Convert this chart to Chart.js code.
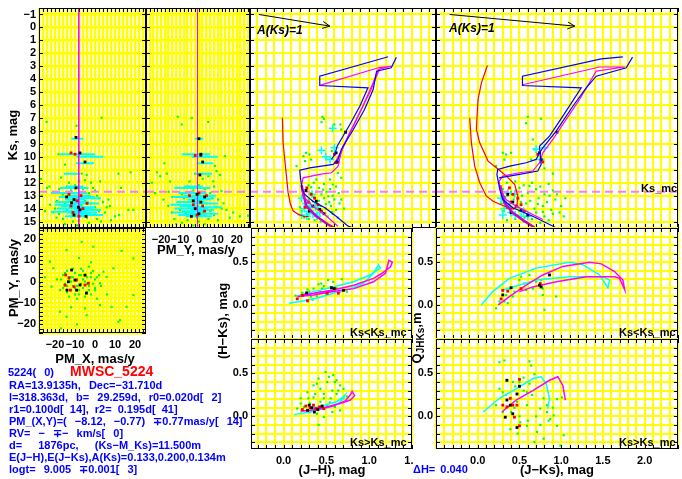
<!DOCTYPE html>
<html>
<head>
<meta charset="utf-8">
<script src="https://cdn.jsdelivr.net/npm/chart.js@4.4.1/dist/chart.umd.min.js"></script>
<style>
  body { margin: 0; background: #fff; }
  #wrap { position: relative; width: 682px; height: 479px; overflow: hidden; background: #fff;
    font-family: "Liberation Sans", Arial, sans-serif; font-weight: bold; }
  canvas { position: absolute; z-index: 1; }
  .t { position: absolute; white-space: pre; font-size: 11px; line-height: 12px; color: #000; z-index: 2; }
  .c { transform: translate(-50%, -50%); }
  .r { transform: translate(-50%, -50%) rotate(-90deg); }
  .ttl { font-size: 13px; }
  .blue { color: #0000ff; word-spacing: 5px; }
</style>
</head>
<body>
<div id="wrap">
  <div class="t ttl r" style="left:13px;top:135px">Ks, mag</div>
  <div class="t ttl c" style="left:196px;top:250px">PM_Y, mas/y</div>
  <div class="t ttl r" style="left:14px;top:278px">PM_Y, mas/y</div>
  <div class="t ttl c" style="left:95px;top:359px">PM_X, mas/y</div>
  <div class="t ttl r" style="left:223px;top:321px">(H&#8722;Ks), mag</div>
  <div class="t ttl r" style="left:419px;top:338px">Q<sub style="font-size:10px">JHKs</sub>,m</div>
  <div class="t ttl c" style="left:332px;top:470px">(J&#8722;H), mag</div>
  <div class="t ttl c" style="left:557px;top:470px">(J&#8722;Ks), mag</div>
  <div class="t blue" style="left:413px;top:463px;word-spacing:2px">&#916;H= 0.040</div>
  <div class="t" style="left:350px;top:326px">Ks&lt;Ks_mc</div>
  <div class="t" style="left:350px;top:436px">Ks&gt;Ks_mc</div>
  <div class="t" style="left:619px;top:326px">Ks&lt;Ks_mc</div>
  <div class="t" style="left:619px;top:436px">Ks&gt;Ks_mc</div>
  <div class="t" style="left:641px;top:182px">Ks_mc</div>
  <div class="t" style="left:257px;top:24px;font-style:italic;font-size:12px">A(Ks)=1</div>
  <div class="t" style="left:449px;top:22px;font-style:italic;font-size:12px">A(Ks)=1</div>

  <div class="t blue" style="left:8px;top:366px">5224( 0)</div>
  <div class="t" style="left:70px;top:364px;font-size:14px;line-height:15px;color:#ff0000">MWSC_5224</div>
  <div class="t blue" style="left:9px;top:379px">RA=13.9135h, Dec=&#8722;31.710d</div>
  <div class="t blue" style="left:9px;top:391px">l=318.363d, b= 29.259d, r0=0.020d[ 2]</div>
  <div class="t blue" style="left:9px;top:403px;word-spacing:3px">r1=0.100d[ 14], r2= 0.195d[ 41]</div>
  <div class="t blue" style="left:9px;top:415px">PM_(X,Y)=( &#8722;8.12, &#8722;0.77) &#8723;0.77mas/y[ 14]</div>
  <div class="t blue" style="left:9px;top:427px">RV= &#8722; &#8723;&#8722; km/s[ 0]</div>
  <div class="t blue" style="left:9px;top:439px">d=  1876pc,  (Ks&#8722;M_Ks)=11.500m</div>
  <div class="t blue" style="left:9px;top:451px">E(J&#8722;H),E(J&#8722;Ks),A(Ks)=0.133,0.200,0.134m</div>
  <div class="t blue" style="left:9px;top:463px">logt= 9.005 &#8723;0.001[ 3]</div>
</div>
<script>
// cluster parameters
const ksMc = 12.7;
const pmxCl = -8.12;
const pmyCl = -0.77;

// tick labels
const ksTicks = [-1, 0, 1, 2, 3, 4, 5, 6, 7, 8, 9, 10, 11, 12, 13, 14, 15];
const pmTicks = [-20, -10, 0, 10, 20];
const colorTicks = [0, 0.5, 1, 1.5, 2];

// Ks vs PM_X
const p1Field = [[3.3,6.98],[-24.2,7.3],[-9.2,7.6],[-18.3,9.8],[-15,10.6],[11.7,11.3],[17.8,11.2],[-27,11.7],[-6.7,11.3],[-4.2,11.4],
  [-22.8,12.3],[13,12.4],[2.5,11.9],[-26.7,13.0],[-22.5,13.7],[-25,14.2],[10,14.6],[16.7,14.1],[19.2,14.1],[7.5,13.8],[6.7,13.3],
  [1.7,13.2],[0.8,14.1],[5,14.3],[5.8,13.9],[-20.8,14.3],[-19.2,14.7],[-18,12.5],[-16,12.9],[-14,12.3],[-12,12.6],[-10,12.2],
  [-6,12.5],[-3,12.8],[-1,12.4],[1,13.0],[-19,13.4],[-17,13.1],[-15,13.6],[-13,13.3],[-11,13.9],[-9,13.2],[-7,13.7],[-5,13.4],
  [-4,14.0],[-2,13.6],[0,13.9],[2,14.2],[-20,14.0],[-18,14.4],[-16,14.8],[-14,14.1],[-12,14.6],[-10,14.3],[-8,14.9],[-6,14.5],
  [-4,14.7],[-3,15.1],[-1,14.5],[1,14.8],[3,15.0],[-15,15.2],[-11,15.0],[-9,15.3],[-7,14.2],[-13,12.0],[-5,11.8],[-2,12.0],
  [0,12.6],[-17,11.6],[-8,11.9],[4,13.5],[-21,12.7],[-24,12.4],[8,14.9],[12,14.5]];
const p1Err = [[8.6,-11.7,-5.9],[9.8,-17.5,0],[10.0,-9.2,4.2],[10.5,-9.5,-0.5],[11.3,-15.5,-7.5],[12.4,-17.5,-3.3],[12.8,-22,-4],
  [13.0,-14,-2],[13.1,-18,0],[13.3,-15,-5],[13.5,-20,-3],[13.6,-12,2],[13.8,-17,-6],[13.9,-13,0],[14.0,-19,-1],[14.1,-10,3],
  [14.2,-16,-4],[14.3,-14,1],[14.4,-12,-2],[14.5,-9,4],[14.6,-15,-5],[13.2,-10,3],[13.7,-20,-9],[14.25,-22,-12],[12.3,-14,-6]];
const p1MemB = [[-9.5,8.5],[-7.5,9.7],[-5,10.4],[-9.5,12.4],[-10.5,13.3],[-11.7,13.55],[-8.3,13.9],[-7.5,14.1],[-10.5,14.5],[-4.5,14.6],[-14.2,13.1]];
const p1MemR = [[-12,9.7],[-10,9.8],[-13,12.9],[-7,13.0],[-9,13.4],[-12,13.8],[-6,14.0],[-8,14.6],[-4,13.6],[-11,14.3]];

// Ks vs PM_Y
const p2Field = [[-11.2,6.9],[-9.1,7.5],[-3.8,7.0],[4.9,7.3],[13.7,9.95],[8.4,10.7],[-18.3,10.5],[-22.3,11.2],[-20.5,11.5],[-17,11.3],
  [-15.3,11.9],[9.3,11.1],[11.1,11.4],[7.6,11.9],[-24.9,12.0],[-23.2,12.8],[-18.8,13.3],[-16.2,13.8],[-14.4,14.3],[14.6,14.1],
  [18.1,14.3],[21.6,14.6],[16.3,14.7],[10.2,13.3],[11.9,12.65],[26,14.55],[-12,12.4],[-9,12.9],[-6,12.3],[-3,12.6],[0,12.2],
  [3,12.5],[6,12.8],[8,12.3],[-11,13.5],[-8,13.2],[-5,13.7],[-2,13.3],[1,13.9],[4,13.6],[7,13.2],[9,13.9],[-10,14.1],[-7,14.4],
  [-4,14.0],[-1,14.7],[2,14.3],[5,14.8],[8,14.5],[-13,14.8],[-9,15.1],[-6,14.9],[-3,15.3],[0,15.0],[3,15.2],[6,14.2],[-14,13.1],
  [12,14.0],[-5,11.9],[2,11.7],[-2,11.3],[5,11.5],[10,14.9],[-16,12.7],[13,13.6],[-12,15.2],[0,13.4]];
const p2Err = [[8.6,-2.1,2.3],[9.8,-9.1,5.8],[10.0,-4,10],[10.5,-1.2,7.5],[11.3,-2,7],[12.4,-13,6],[12.8,-11,4],[13.0,-8,9],
  [13.1,-14,2],[13.3,-6,6],[13.5,-12,3],[13.6,-3,10],[13.8,-10,0],[13.9,-6,12],[14.0,-13,5],[14.1,-4,8],[14.2,-9,2],[14.3,-14,-2],
  [14.4,-5,10],[14.5,-11,4],[14.6,-7,7],[13.2,-3,8],[13.7,-15,-4],[12.3,-8,2]];
const p2MemB = [[0,8.6],[1,9.8],[2,10.4],[0.5,11.4],[-1,12.9],[-3,13.4],[1,13.5],[-2,14.0],[0,14.4],[3,13.1],[-4,14.6]];
const p2MemR = [[-2,9.9],[1,9.9],[-5,13.0],[2,13.8],[0,12.8],[3,14.2],[-3,13.7],[4,13.0],[-1,14.5]];

// Ks vs (J-H)
const p3Field = [[0.46,6.91],[0.48,7.06],[0.45,7.32],[0.60,7.5],[0.67,7.5],[0.68,7.89],[0.31,9.82],[0.27,9.69],[0.24,9.95],
  [0.26,10.33],[0.33,10.21],[0.57,9.56],[0.64,11.24],[0.68,11.62],[0.55,11.75],[0.58,12.14],[0.39,11.75],[0.16,10.72],
  [0.30,12.2],[0.36,12.0],[0.42,12.4],[0.48,12.1],[0.55,12.5],[0.62,12.3],[0.27,12.6],[0.33,12.8],[0.39,12.7],[0.45,12.9],
  [0.51,12.7],[0.58,13.0],[0.65,12.8],[0.24,13.1],[0.30,13.3],[0.36,13.1],[0.42,13.4],[0.48,13.2],[0.54,13.5],[0.60,13.3],
  [0.66,13.6],[0.26,13.7],[0.32,13.9],[0.38,13.6],[0.44,13.8],[0.50,14.0],[0.56,13.8],[0.62,14.1],[0.22,14.2],[0.28,14.4],
  [0.34,14.2],[0.40,14.5],[0.46,14.3],[0.52,14.6],[0.58,14.4],[0.64,14.7],[0.30,14.8],[0.37,14.9],[0.44,15.0],[0.25,14.7],
  [0.47,12.55],[0.53,13.05],[0.35,13.45],[0.41,14.05],[0.57,14.25],[0.68,13.3],[0.71,14.0],[0.20,13.9],[0.33,12.35],[0.50,13.65]];
const p3Err = [[0.22,13.2],[0.27,13.6],[0.25,14.0],[0.30,14.2],[0.35,14.4],[0.32,13.8],[0.40,14.6],[0.28,14.6],[0.45,9.5],
  [0.60,9.3],[0.55,10.2],[0.58,7.8],[0.34,12.9],[0.38,13.9],[0.43,14.3],[0.22,14.5],[0.50,10.0]];
const p3MemB = [[0.62,9.69],[0.64,10.4],[0.27,12.6],[0.39,13.43],[0.35,13.8],[0.43,14.07],[0.31,14.2],[0.48,14.4],[0.73,8.1]];
const p3MemR = [[0.28,12.4],[0.33,12.9],[0.30,13.5],[0.37,13.2],[0.26,13.9],[0.41,13.7],[0.45,14.2],[0.60,9.8],[0.62,10.45]];
const isoBlueJH = [[0.80,15.45],[0.76,15.36],[0.62,14.59],[0.49,13.94],[0.35,13.43],[0.256,12.91],[0.225,12.52],[0.206,11.62],
  [0.198,11.03],[0.314,10.85],[0.585,10.59],[0.643,10.21],[0.68,9.43],[0.82,7.89],[0.95,6.34],[1.05,4.8],[1.09,3.38],[1.26,3.12],[1.32,2.30]];
const isoBlueJH2 = [[1.225,2.27],[0.43,3.77],[0.43,4.49],[0.99,4.67],[0.895,6.09],[0.78,7.5],[0.632,9.18],[0.605,9.82],[0.566,10.2]];
const isoMagJH = [[0.64,15.36],[0.51,14.59],[0.35,13.81],[0.236,13.04],[0.217,12.27],[0.236,11.62],[0.43,11.36],[0.566,11.23],
  [0.643,10.72],[0.66,10.2],[0.70,9.18],[0.82,7.63],[0.93,6.09],[1.05,4.28],[1.11,3.25],[1.26,3.0],[1.12,3.1],[0.438,4.46]];
const isoMagJH2 = [[0.60,10.5],[0.68,9.6],[0.78,8.1],[0.90,6.5],[1.02,4.9],[1.10,3.6],[1.13,3.2]];
const isoZamsJH = [[0.22,12.2],[0.236,12.78],[0.275,13.81],[0.39,14.59],[0.527,15.23],[0.60,15.5]];
const isoRedJH = [[-0.004,6.98],[0.004,8.89],[0.023,10.18],[0.043,11.46],[0.062,12.75],[0.089,13.65],[0.12,14.17],[0.178,14.43],[0.256,14.63],[0.30,14.6]];
const arrowJH = [[-0.276,-1.0],[0.547,-0.1]];

// Ks vs (J-Ks)
const p4Field = [[0.60,6.91],[0.76,7.06],[0.66,8.66],[0.30,9.69],[0.34,9.82],[0.40,9.69],[0.32,10.21],[0.68,9.43],[0.64,10.2],
  [0.22,10.72],[0.58,7.4],[0.80,10.9],[0.90,11.3],[0.35,12.0],[0.45,11.9],[0.55,12.2],[0.65,12.0],[0.75,12.3],[0.85,12.1],
  [0.30,12.5],[0.40,12.7],[0.50,12.4],[0.60,12.8],[0.70,12.5],[0.80,12.9],[0.90,12.6],[0.33,13.1],[0.43,13.3],[0.53,13.0],
  [0.63,13.4],[0.73,13.2],[0.83,13.5],[0.93,13.3],[1.00,13.8],[0.38,13.7],[0.48,13.9],[0.58,13.6],[0.68,14.0],[0.78,13.8],
  [0.88,14.1],[0.98,14.3],[0.30,14.2],[0.40,14.4],[0.50,14.2],[0.60,14.5],[0.70,14.3],[0.80,14.6],[0.90,14.4],[1.03,14.6],
  [0.45,14.8],[0.55,15.0],[0.65,14.8],[0.75,15.1],[0.85,14.9],[0.35,14.9],[0.28,13.6],[0.95,12.9],[1.05,13.2],[0.62,12.25],
  [0.72,13.65],[0.52,13.5],[0.86,13.0],[0.46,12.6],[0.78,14.25],[0.56,14.7]];
const p4Err = [[0.28,13.2],[0.34,13.6],[0.32,14.0],[0.40,14.3],[0.45,14.5],[0.38,13.9],[0.52,14.6],[0.30,14.5],[0.70,9.4],
  [0.80,9.3],[0.75,10.2],[0.44,12.9],[0.55,14.2],[0.60,14.6],[0.36,12.8]];
const p4MemB = [[0.74,9.69],[0.76,10.21],[0.36,12.9],[0.46,13.8],[0.42,13.5],[0.52,14.1],[0.40,14.3],[0.60,14.5],[0.95,8.1]];
const p4MemR = [[0.38,12.4],[0.42,12.9],[0.40,13.5],[0.48,13.2],[0.36,13.9],[0.52,13.7],[0.56,14.2],[0.72,9.8],[0.78,10.4]];
const isoBlueJK = [[0.94,15.48],[0.66,14.59],[0.42,13.94],[0.30,13.3],[0.264,12.52],[0.23,11.36],[0.24,10.98],[0.384,10.72],
  [0.58,10.46],[0.70,10.2],[0.74,9.69],[0.78,9.3],[0.94,8.02],[1.14,6.09],[1.30,4.67],[1.42,3.77],[1.78,3.12],[1.855,2.30]];
const isoBlueJK2 = [[1.74,2.27],[1.48,2.43],[0.536,3.77],[0.536,4.49],[1.24,4.67],[1.02,6.86],[0.86,8.4],[0.74,9.18],
  [0.76,10.59],[0.72,11.1],[0.50,11.36],[0.256,11.62]];
const isoMagJK = [[0.78,14.84],[0.66,14.45],[0.46,13.81],[0.34,13.3],[0.27,12.52],[0.256,11.88],[0.30,11.49],[0.50,11.23],
  [0.66,11.1],[0.74,10.46],[0.78,9.69],[0.90,8.66],[1.06,7.11],[1.22,5.57],[1.42,3.38],[1.76,3.06],[1.46,3.06],[0.536,4.43]];
const isoZamsJK = [[0.27,12.2],[0.28,12.52],[0.32,13.55],[0.42,14.33],[0.56,14.97],[0.68,15.46]];
const isoRedJK1 = [[0.116,2.94],[0.044,4.28],[0.004,5.57],[-0.008,6.86],[-0.016,7.89],[0.024,8.92],[0.124,10.33],[0.224,10.85],
  [0.344,11.49],[0.444,12.14],[0.48,13.04],[0.47,13.81],[0.42,14.07]];
const isoRedJK2 = [[-0.096,6.98],[-0.076,8.92],[-0.036,10.72],[0.024,12.0],[0.104,13.04],[0.184,13.43],[0.30,13.76],[0.42,14.02]];
const arrowJK = [[-0.336,-1.0],[1.163,-0.1]];

// PM_Y vs PM_X
const pmField = [[-6.7,18.6],[-0.8,16.3],[-14.2,14.7],[13.3,14.3],[-22.5,9.3],[19.2,10.8],[-20.8,6.2],[9.2,6.2],[-27.5,-0.8],
  [-21.7,-2.4],[-17.5,-4.0],[-17.5,-14.1],[-14.2,-16.4],[-17,-21.9],[-4.2,-15.7],[-5,-12.5],[2.5,-11],[8.3,-11.8],[12.5,-18],
  [11.7,-18.8],[19.2,-6.3],[15.8,-11.8],[0,-4],[2.5,-0.8],[5.8,2.2],[4.2,4.6],[-25,2],[-12,-12],[-9,-20],[6,-6],[-2,9],[-8,11],
  [1,-8],[-19,1],[-16,3],[-14,5],[-12,2],[-10,4],[-8,3],[-6,5],[-4,2],[-2,4],[0,1],[-15,-1],[-13,1],[-11,-2],[-9,1],[-7,-1],
  [-5,0],[-3,-2],[-1,-1],[1,2],[-16,-3],[-14,-5],[-12,-4],[-10,-6],[-8,-4],[-6,-3],[-4,-5],[-2,-6],[0,-3],[-13,-7],[-9,-8],
  [-5,-7],[-11,6],[-7,6],[-3,7],[-17,1],[3,-2],[-10,-3],[-6,1],[-8,-6],[-12,0],[-4,-1],[-2,2],[-14,-2],[-7,3],[-9,-2],[-11,2],
  [-5,3],[-3,-4],[-15,4],[-1,5],[2,3]];
const pmMemB = [[-11.7,5.4],[-10,0.7],[-13.3,-0.1],[-7.5,-1.6],[-9.2,-4],[-14,-4],[-5,3],[-4.3,-5.4]];
const pmMemR = [[-14.7,3.1],[-13,1.8],[-9.3,0.7],[-5,-1.6],[-3.3,-0.8],[-12.3,-4],[-10.5,-2.4],[-15,-1.7]];

// (H-Ks) vs (J-H), bright and faint
const hkHiField = [[0.35,0.19],[0.41,0.24],[0.44,0.25],[0.52,0.29],[0.68,0.30],[0.22,0.14],[0.18,0.10],[0.30,0.155],[0.37,0.128],
  [0.55,0.21],[0.59,0.175],[0.62,0.19],[0.32,0.097],[0.26,0.116],[0.43,0.155],[0.39,0.10],[0.49,0.136],[0.66,0.155],[0.14,0.108],
  [0.58,0.27],[0.74,0.155],[0.47,0.22],[0.28,0.18],[0.34,0.06],[0.45,0.19]];
const hkHiMemB = [[0.27,0.14],[0.59,0.19],[0.70,0.17],[0.56,0.20]];
const hkHiMemR = [[0.28,0.047],[0.16,0.07],[0.60,0.19],[0.64,0.136],[0.51,0.136],[0.22,0.11]];
const hkHiCyan = [[0.062,0.02],[0.19,0.04],[0.39,0.078],[0.58,0.136],[0.78,0.19],[0.93,0.25],[1.05,0.37],[1.11,0.47],[1.13,0.43],
  [1.01,0.35],[0.82,0.27],[0.58,0.21],[0.35,0.155],[0.16,0.105]];
const hkHiMag = [[0.16,0.097],[0.35,0.116],[0.58,0.155],[0.82,0.19],[1.05,0.27],[1.19,0.37],[1.23,0.52],[1.27,0.50],[1.25,0.445],
  [1.15,0.37],[1.05,0.31],[0.82,0.23],[0.58,0.175],[0.35,0.136],[0.20,0.116]];
const hkLoField = [[0.49,0.515],[0.58,0.48],[0.41,0.44],[0.62,0.42],[0.51,0.40],[0.35,0.36],[0.66,0.36],[0.43,0.32],[0.57,0.30],
  [0.70,0.32],[0.28,0.28],[0.47,0.26],[0.62,0.26],[0.35,0.22],[0.20,0.21],[0.55,0.21],[0.70,0.21],[0.16,0.09],[0.24,0.11],
  [0.31,0.15],[0.43,0.17],[0.51,0.13],[0.60,0.11],[0.66,0.07],[0.39,0.03],[0.47,-0.008],[0.41,-0.10],[0.31,0.05],[0.57,0.05],
  [0.74,0.23],[0.20,0.15],[0.39,0.38],[0.53,0.46],[0.64,0.30],[0.29,0.21],[0.37,0.26],[0.60,0.40],[0.47,0.21],[0.43,0.10],[0.54,0.16]];
const hkLoMemB = [[0.33,0.10],[0.40,0.08],[0.45,0.12],[0.30,0.13],[0.36,0.05],[0.28,0.07]];
const hkLoMemR = [[0.31,0.10],[0.26,0.12],[0.38,0.09],[0.42,0.11],[0.35,0.13],[0.47,0.09],[0.22,0.08]];
const hkLoCyan = [[0.12,0.02],[0.31,0.05],[0.51,0.10],[0.64,0.15],[0.70,0.21],[0.72,0.25],[0.69,0.22],[0.62,0.17],[0.45,0.12],[0.30,0.09]];
const hkLoMag = [[0.20,0.06],[0.39,0.08],[0.58,0.12],[0.72,0.18],[0.78,0.25],[0.80,0.29],[0.83,0.24],[0.78,0.19],[0.66,0.15],[0.50,0.11],[0.35,0.09]];

// Q vs (J-Ks), bright and faint
const qHiField = [[0.52,0.33],[0.62,0.35],[0.30,0.17],[0.38,0.19],[0.34,0.116],[0.32,0.039],[0.36,0.02],[0.22,-0.04],[0.78,0.19],
  [0.80,-0.058],[0.94,0.097],[0.44,0.155],[0.56,0.25],[0.70,0.27],[0.66,0.19],[0.76,0.29],[0.78,0.116],[0.42,0.097],[0.58,0.174],
  [0.26,0.039],[0.50,0.29]];
const qHiMemB = [[0.86,0.35],[0.76,0.21],[0.74,0.23],[0.30,0.116],[0.40,0.20]];
const qHiMemR = [[0.30,0.17],[0.28,0.07],[0.36,0.16],[0.52,0.19],[0.75,0.25]];
const qHiCyan = [[0.044,0.0],[0.18,0.155],[0.38,0.31],[0.70,0.43],[1.10,0.50],[1.26,0.47],[1.46,0.35],[1.56,0.20],[1.58,0.29],
  [1.50,0.33],[1.10,0.33],[0.70,0.29],[0.42,0.21],[0.30,0.17]];
const qHiMag = [[0.245,0.0],[0.38,0.097],[0.58,0.23],[0.78,0.35],[1.02,0.45],[1.34,0.50],[1.48,0.48],[1.64,0.39],[1.74,0.29],
  [1.76,0.18],[1.70,0.31],[1.64,0.33],[1.30,0.33],[0.94,0.27],[0.66,0.21],[0.50,0.155]];
const qLoField = [[0.26,0.63],[0.32,0.65],[0.62,0.64],[0.64,0.59],[0.35,0.42],[0.42,0.40],[0.50,0.40],[0.68,0.49],[0.39,0.21],
  [0.47,0.17],[0.59,0.13],[0.75,0.09],[0.83,0.05],[0.87,-0.03],[0.95,-0.11],[1.03,-0.22],[0.99,-0.34],[0.79,-0.26],[0.71,-0.18],
  [0.59,-0.11],[0.39,-0.15],[0.51,-0.07],[0.30,0.05],[0.22,0.13],[0.30,0.28],[0.59,0.28],[0.79,0.21],[0.83,0.13],[0.91,0.01],
  [1.01,0.22],[0.45,0.35],[0.55,0.30],[0.65,0.25],[0.40,0.05],[0.50,0.0],[0.60,-0.05],[0.70,0.0],[0.75,-0.1],[0.85,-0.05],
  [0.90,0.10],[0.55,0.45],[0.62,0.38],[0.68,-0.3],[0.48,-0.2],[0.34,0.25],[0.26,0.32],[0.44,0.10],[0.95,0.20]];
const qLoMemB = [[0.35,0.42],[0.50,0.35],[0.35,0.19],[0.47,0.26],[0.39,0.13],[0.42,0.03],[0.47,-0.13],[0.33,-0.01]];
const qLoMemR = [[0.50,0.43],[0.35,0.11],[0.42,0.13],[0.47,0.13],[0.39,0.21],[0.44,-0.01],[0.50,-0.11],[0.30,0.13]];
const qLoCyan = [[0.064,0.05],[0.26,0.21],[0.46,0.32],[0.66,0.44],[0.76,0.46],[0.82,0.38],[0.86,0.21],[0.84,0.09]];
const qLoMag = [[0.29,0.05],[0.46,0.19],[0.66,0.30],[0.86,0.42],[0.96,0.46],[1.02,0.36],[1.05,0.19]];

// axes
const ksAxis = { min: -1.5, max: 15.5, step: 1, reverse: true };
const pmxAxis = { min: -28, max: 25.5, step: 2 };
const pmyAxis = { min: -28, max: 27, step: 2 };
const pmyAxis2 = { min: -24, max: 25, step: 2 };
const jhWide = { min: -0.38, max: 1.78, step: 0.1 };
const jhAxis = { min: -0.38, max: 1.5, step: 0.1 };
const jkAxis = { min: -0.5, max: 2.4, step: 0.1 };
const colHi = { min: -0.4, max: 0.9, step: 0.1 };
const colLo = { min: -0.38, max: 0.9, step: 0.1 };

const GREEN = '#00ff00', CYAN = '#00ffff', BLUE = '#0000ff', MAG = '#ff00ff', RED = '#ff0000', PINK = '#ff77ff';

Chart.defaults.font.family = '"Liberation Sans", Arial, sans-serif';
Chart.defaults.font.size = 11;
Chart.defaults.font.weight = 'bold';
Chart.defaults.color = '#000';

const P = a => a.map(([x, y]) => ({ x, y }));
const dots = (a, color, r) => ({ data: P(a), showLine: false, pointStyle: 'rect', pointRadius: r, pointHoverRadius: r,
  pointBorderWidth: 0, pointBackgroundColor: color, borderColor: color });
const curve = (a, color, w, dash) => ({ data: P(a), showLine: true, pointRadius: 0, borderColor: color, borderWidth: w,
  borderDash: dash || [], fill: false, tension: 0 });
const hbars = (a, color) => ({ data: a.flatMap(([y, lo, hi]) => [{ x: lo, y }, { x: hi, y }, { x: hi, y: null }]),
  showLine: true, spanGaps: false, pointRadius: 0, borderColor: color, borderWidth: 2 });
const crosses = (a, color) => ({ data: P(a), showLine: false, pointStyle: 'cross', pointRadius: 4, pointBorderWidth: 1.5,
  pointBorderColor: color, borderColor: color });
const hline = (ax, y) => curve([[ax.min, y], [ax.max, y]], PINK, 2, [8, 5]);
const vline = (ax, x) => curve([[x, ax.min], [x, ax.max]], MAG, 1);

const sgn = v => (v < 0 ? '\u2212' : '') + Math.abs(v);
const pick = (list, f) => v => { const t = list.find(k => Math.abs(k - v) < 1e-6); return t === undefined ? '' : f(t); };

// black border round each plot box, with short inward ticks at every grid line
const frame = {
  id: 'frame',
  afterDatasetsDraw(chart) {
    const a = chart.chartArea, c = chart.ctx, sx = chart.scales.x, sy = chart.scales.y, L = 4;
    c.save();
    c.strokeStyle = '#000';
    c.lineWidth = 1;
    c.beginPath();
    sx.ticks.forEach(t => {
      const px = Math.round(sx.getPixelForValue(t.value)) + 0.5;
      c.moveTo(px, a.top); c.lineTo(px, a.top + L);
      c.moveTo(px, a.bottom); c.lineTo(px, a.bottom - L);
    });
    sy.ticks.forEach(t => {
      const py = Math.round(sy.getPixelForValue(t.value)) + 0.5;
      c.moveTo(a.left, py); c.lineTo(a.left + L, py);
      c.moveTo(a.right, py); c.lineTo(a.right - L, py);
    });
    c.stroke();
    c.strokeRect(a.left + 0.5, a.top + 0.5, a.right - a.left - 1, a.bottom - a.top - 1);
    c.restore();
  }
};

// head for the reddening vector
const arrowHead = {
  id: 'arrowHead',
  afterDatasetsDraw(chart) {
    chart.data.datasets.forEach((d, i) => {
      if (!d.arrow) return;
      const pts = chart.getDatasetMeta(i).data;
      const a = pts[pts.length - 2], b = pts[pts.length - 1];
      const ang = Math.atan2(b.y - a.y, b.x - a.x), L = 8, c = chart.ctx;
      c.save();
      c.strokeStyle = d.borderColor;
      c.lineWidth = 1;
      c.beginPath();
      c.moveTo(b.x - L * Math.cos(ang - 0.45), b.y - L * Math.sin(ang - 0.45));
      c.lineTo(b.x, b.y);
      c.lineTo(b.x - L * Math.cos(ang + 0.45), b.y - L * Math.sin(ang + 0.45));
      c.stroke();
      c.restore();
    });
  }
};

function scale(s, side, margin, gridW, label, pad) {
  return {
    type: 'linear', position: side, min: s.min, max: s.max, reverse: !!s.reverse,
    grid: { color: '#ffff00', lineWidth: gridW, drawTicks: false },
    border: { display: false },
    ticks: { display: !!label, autoSkip: false, maxRotation: 0, minRotation: 0, padding: pad || 3,
      callback: label || (() => '') },
    afterBuildTicks(sc) {
      const v = [];
      for (let k = Math.ceil(s.min / s.step - 1e-9); k * s.step <= s.max + 1e-9; k++) v.push({ value: +(k * s.step).toFixed(4) });
      sc.ticks = v;
    },
    afterFit(sc) {
      if (side === 'left') sc.width = margin; else sc.height = margin;
      sc.paddingLeft = sc.paddingRight = sc.paddingTop = sc.paddingBottom = 0;
    }
  };
}

function panel(p) {
  const cv = document.createElement('canvas');
  const W = p.ml + p.w + 1, H = p.h + p.mb + 1;
  cv.width = W; cv.height = H;
  cv.style.left = (p.left - p.ml) + 'px';
  cv.style.top = (p.top - 1) + 'px';
  document.getElementById('wrap').appendChild(cv);
  new Chart(cv, {
    type: 'scatter',
    data: { datasets: p.layers.slice().reverse() },
    options: {
      responsive: false, animation: false, events: [], devicePixelRatio: 1,
      layout: { autoPadding: false, padding: { top: 1, right: 1, left: 0, bottom: 0 } },
      plugins: { legend: { display: false }, tooltip: { enabled: false } },
      scales: {
        x: scale(p.x, 'bottom', p.mb, p.gw, p.xl, 5),
        y: scale(p.y, 'left', p.ml, p.gw, p.yl, 3)
      }
    },
    plugins: [frame, arrowHead]
  });
}

const ksLab = pick(ksTicks, sgn);
const pmLab = pick(pmTicks, sgn);
const colLab = pick(colorTicks, t => t.toFixed(1));

// layers are listed bottom first
panel({ left: 39, top: 8, w: 107, h: 220, ml: 39, mb: 0, gw: 2.5, x: pmxAxis, y: ksAxis, yl: ksLab,
  layers: [dots(p1Field, GREEN, 1.5), hbars(p1Err, CYAN), hline(pmxAxis, ksMc), vline(ksAxis, pmxCl),
    dots(p1MemR, RED, 2), dots(p1MemB, '#000', 2)] });
panel({ left: 146, top: 8, w: 104, h: 220, ml: 0, mb: 20, gw: 2.5, x: pmyAxis, y: ksAxis, xl: pmLab,
  layers: [dots(p2Field, GREEN, 1.5), hbars(p2Err, CYAN), hline(pmyAxis, ksMc), vline(ksAxis, pmyCl),
    dots(p2MemR, RED, 2), dots(p2MemB, '#000', 2)] });
panel({ left: 250, top: 8, w: 186, h: 220, ml: 0, mb: 0, gw: 2, x: jhWide, y: ksAxis,
  layers: [dots(p3Field, GREEN, 1.5), crosses(p3Err, CYAN), hline(jhWide, ksMc), dots(p3MemR, RED, 2), dots(p3MemB, '#000', 2),
    curve(isoRedJH, RED, 1.2), curve(isoZamsJH, '#cc00cc', 2.5), curve(isoMagJH, MAG, 1.2), curve(isoMagJH2, MAG, 1.2),
    curve(isoBlueJH, BLUE, 1.2), curve(isoBlueJH2, BLUE, 1.2), Object.assign(curve(arrowJH, '#000', 1), { arrow: true })] });
panel({ left: 436, top: 8, w: 242, h: 220, ml: 0, mb: 0, gw: 2, x: jkAxis, y: ksAxis,
  layers: [dots(p4Field, GREEN, 1.5), crosses(p4Err, CYAN), hline(jkAxis, ksMc), dots(p4MemR, RED, 2), dots(p4MemB, '#000', 2),
    curve(isoRedJK1, RED, 1.2), curve(isoRedJK2, RED, 1.2), curve(isoZamsJK, '#cc00cc', 2.5), curve(isoMagJK, MAG, 1.2),
    curve(isoBlueJK, BLUE, 1.2), curve(isoBlueJK2, BLUE, 1.2), Object.assign(curve(arrowJK, '#000', 1), { arrow: true })] });
panel({ left: 39, top: 228, w: 107, h: 105, ml: 39, mb: 20, gw: 2.5, x: pmxAxis, y: pmyAxis2, xl: pmLab, yl: pmLab,
  layers: [dots(pmField, GREEN, 1.5), dots(pmMemR, RED, 2), dots(pmMemB, '#000', 2)] });
panel({ left: 251, top: 228, w: 161, h: 111, ml: 30, mb: 0, gw: 2, x: jhAxis, y: colHi, yl: colLab,
  layers: [dots(hkHiField, GREEN, 1.5), curve(hkHiCyan, CYAN, 1.5), curve(hkHiMag, MAG, 1.5),
    dots(hkHiMemR, RED, 2), dots(hkHiMemB, '#000', 2)] });
panel({ left: 251, top: 339, w: 161, h: 110, ml: 30, mb: 20, gw: 2, x: jhAxis, y: colLo, xl: colLab, yl: colLab,
  layers: [dots(hkLoField, GREEN, 1.5), curve(hkLoCyan, CYAN, 1.5), curve(hkLoMag, MAG, 1.5),
    dots(hkLoMemR, RED, 2), dots(hkLoMemB, '#000', 2)] });
panel({ left: 436, top: 228, w: 242, h: 111, ml: 24, mb: 0, gw: 2, x: jkAxis, y: colHi, yl: colLab,
  layers: [dots(qHiField, GREEN, 1.5), curve(qHiCyan, CYAN, 1.5), curve(qHiMag, MAG, 1.5),
    dots(qHiMemR, RED, 2), dots(qHiMemB, '#000', 2)] });
panel({ left: 436, top: 339, w: 242, h: 110, ml: 24, mb: 20, gw: 2, x: jkAxis, y: colLo, xl: colLab, yl: colLab,
  layers: [dots(qLoField, GREEN, 1.5), curve(qLoCyan, CYAN, 1.5), curve(qLoMag, MAG, 1.5),
    dots(qLoMemR, RED, 2), dots(qLoMemB, '#000', 2)] });
</script>
</body>
</html>
